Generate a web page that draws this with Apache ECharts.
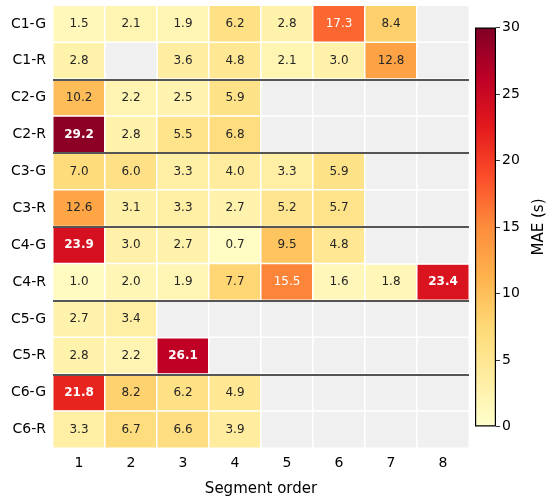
<!DOCTYPE html>
<html>
<head>
<meta charset="utf-8">
<script src="https://cdn.jsdelivr.net/npm/echarts@6/dist/echarts.min.js"></script>
<style>
  html, body { margin: 0; padding: 0; background: #fff; }
  #main { width: 550px; height: 502px; }
</style>
</head>
<body>
<div id="main"></div>
<script>
// rows top -> bottom, columns = segment order
const rows = ['C1-G', 'C1-R', 'C2-G', 'C2-R', 'C3-G', 'C3-R', 'C4-G', 'C4-R', 'C5-G', 'C5-R', 'C6-G', 'C6-R'];
const segments = ['1', '2', '3', '4', '5', '6', '7', '8'];
const maeValues = [
    [1.5, 2.1, 1.9, 6.2, 2.8, 17.3, 8.4, null],
    [2.8, null, 3.6, 4.8, 2.1, 3.0, 12.8, null],
    [10.2, 2.2, 2.5, 5.9, null, null, null, null],
    [29.2, 2.8, 5.5, 6.8, null, null, null, null],
    [7.0, 6.0, 3.3, 4.0, 3.3, 5.9, null, null],
    [12.6, 3.1, 3.3, 2.7, 5.2, 5.7, null, null],
    [23.9, 3.0, 2.7, 0.7, 9.5, 4.8, null, null],
    [1.0, 2.0, 1.9, 7.7, 15.5, 1.6, 1.8, 23.4],
    [2.7, 3.4, null, null, null, null, null, null],
    [2.8, 2.2, 26.1, null, null, null, null, null],
    [21.8, 8.2, 6.2, 4.9, null, null, null, null],
    [3.3, 6.7, 6.6, 3.9, null, null, null, null]
];
const groupBreaks = [2, 4, 6, 8, 10];   // line drawn above these rows
const colorbarTicks = [0, 5, 10, 15, 20, 25, 30];
const ylorrd = ['#ffffcc', '#ffeda0', '#fed976', '#feb24c', '#fd8d3c', '#fc4e2a', '#e31a1c', '#bd0026', '#800026'];

const font = 'DejaVu Sans';
const mainGrid = { left: 53, right: 81, top: 5.5, bottom: 54 };
let cells = [];
let missing = [];
maeValues.forEach((row, y) => {
    row.forEach((v, x) => {
        if (v === null) {
            missing.push([x, y, 0]);
            return;
        }
        cells.push({
            value: [x, y, v],
            label: {
                color: v > 15 ? '#ffffff' : '#262626',
                fontWeight: v > 20 ? 'bold' : 'normal'
            }
        });
    });
});

const chart = echarts.init(document.getElementById('main'));
const option = {
    animation: false,
    textStyle: { fontFamily: font },
    grid: [
        mainGrid,
        { left: 475, width: 21, top: 27.5, height: 399 },
        mainGrid   // overlay for the group separator lines
    ],
    xAxis: [{
        type: 'category',
        gridIndex: 0,
        data: segments,
        name: 'Segment order',
        nameLocation: 'middle',
        nameGap: 34,
        nameTextStyle: { fontSize: 15, color: '#000' },
        axisLine: { show: false },
        axisTick: { alignWithLabel: true, length: 4, lineStyle: { color: '#333' } },
        axisLabel: { fontSize: 14, color: '#000', margin: 8 },
        splitLine: { show: false }
    }, {
        type: 'category',
        gridIndex: 1,
        data: ['cb'],
        show: false
    }, {
        type: 'value',
        gridIndex: 2,
        min: 0,
        max: 1,
        show: false
    }],
    yAxis: [{
        type: 'category',
        gridIndex: 0,
        data: rows,
        inverse: true,
        axisLine: { show: false },
        axisTick: { alignWithLabel: true, length: 4, lineStyle: { color: '#333' } },
        axisLabel: { fontSize: 14, color: '#000', margin: 7 },
        splitLine: { show: false }
    }, {
        type: 'value',
        gridIndex: 1,
        min: 0,
        max: 30,
        interval: 5,
        position: 'right',
        name: 'MAE (s)',
        nameLocation: 'middle',
        nameGap: 36,
        nameRotate: 90,
        nameTextStyle: { fontSize: 15, color: '#000' },
        axisLine: { show: false },
        axisTick: { show: true, length: 4, lineStyle: { color: '#333' } },
        axisLabel: { fontSize: 14, color: '#000', margin: 6 },
        splitLine: { show: false }
    }, {
        type: 'value',
        gridIndex: 2,
        min: 0,
        max: rows.length,
        inverse: true,
        show: false
    }],
    visualMap: [{
        show: false,
        type: 'continuous',
        min: 0,
        max: 30,
        dimension: 2,
        seriesIndex: 0,
        inRange: { color: ylorrd }
    }, {
        show: false,
        type: 'piecewise',
        dimension: 2,
        seriesIndex: 1,
        pieces: [{ min: -1, max: 1, color: '#f0f0f0' }]
    }],
    series: [{
        type: 'heatmap',
        xAxisIndex: 0,
        yAxisIndex: 0,
        data: cells,
        label: {
            show: true,
            fontSize: 12,
            formatter: p => p.value[2].toFixed(1)
        },
        itemStyle: { borderColor: '#ffffff', borderWidth: 1.5 },
        emphasis: { disabled: true }
    }, {
        type: 'heatmap',
        xAxisIndex: 0,
        yAxisIndex: 0,
        data: missing,
        itemStyle: { borderColor: '#ffffff', borderWidth: 1.5 },
        emphasis: { disabled: true }
    }, {
        type: 'bar',
        xAxisIndex: 1,
        yAxisIndex: 1,
        data: [colorbarTicks[colorbarTicks.length - 1]],
        barWidth: '100%',
        itemStyle: {
            color: new echarts.graphic.LinearGradient(0, 0, 0, 1,
                ylorrd.slice().reverse().map((c, i) => ({ offset: i / (ylorrd.length - 1), color: c }))),
            borderColor: '#000',
            borderWidth: 1.2
        },
        emphasis: { disabled: true }
    }, {
        type: 'scatter',
        xAxisIndex: 2,
        yAxisIndex: 2,
        data: [[0, 0]],
        symbolSize: 0,
        silent: true,
        z: 10,
        markLine: {
            silent: true,
            symbol: ['none', 'none'],
            label: { show: false },
            lineStyle: { color: '#555', width: 2, type: 'solid' },
            data: groupBreaks.map(b => ({ yAxis: b }))
        }
    }]
};
chart.setOption(option);
</script>
</body>
</html>
